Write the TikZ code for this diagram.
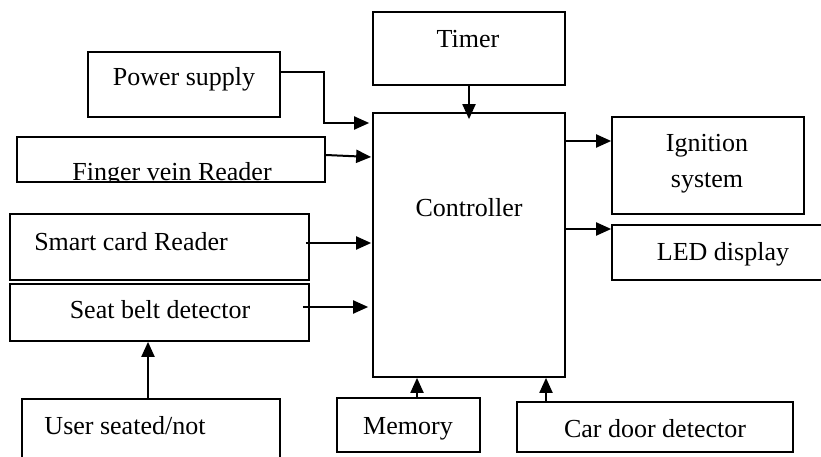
\documentclass[tikz,border=0pt]{standalone}
\usepackage{fontspec}
\setmainfont{Liberation Serif}
\usetikzlibrary{arrows.meta,fit,calc}
\begin{document}
\begin{tikzpicture}[x=1pt,y=-1pt,
  box/.style={draw, line width=1.7pt, inner sep=0pt, rectangle},
  txt/.style={font=\fontsize{26}{36}\selectfont, inner sep=0pt, anchor=base},
  arr/.style={line width=2pt, -{Triangle[length=15pt,width=13pt]}}]
\useasboundingbox (0,0) rectangle (821,457);
\clip (0,0) rectangle (821,457);
% boxes
\node[box, fit={(373,12)(565,85)}] (timer) {};
\node[box, fit={(88,52)(280,117)}] (power) {};
\node[box, fit={(17,137)(325,182)}] (finger) {};
\node[box, fit={(373,113)(565,377)}] (ctrl) {};
\node[box, fit={(612,117)(804,214)}] (ign) {};
\node[box, fit={(612,225)(845,280)}] (led) {};
\node[box, fit={(10,214)(309,280)}] (smart) {};
\node[box, fit={(10,284)(309,341)}] (seat) {};
\node[box, fit={(22,399)(280,485)}] (user) {};
\node[box, fit={(337,398)(480,452)}] (mem) {};
\node[box, fit={(517,402)(793,452)}] (door) {};
% texts
\node[txt] (ttimer) at (468,48) {Timer};
\node[txt] (tpower) at (184,86) {Power supply};
\begin{scope}
\clip (17,137) rectangle (325,181);
\node[txt] (tfinger) at (172,180.5) {Finger vein Reader};
\end{scope}
\node[txt] (tctrl) at (469,216) {Controller};
\node[txt] (tign1) at (707,152) {Ignition};
\node[txt] (tign2) at (707,188) {system};
\node[txt] (tled) at (723,260) {LED display};
\node[txt] (tsmart) at (131,250) {Smart card Reader};
\node[txt] (tseat) at (160,318) {Seat belt detector};
\node[txt] (tuser) at (125,434) {User seated/not};
\node[txt] (tmem) at (408,434) {Memory};
\node[txt] (tdoor) at (655,437) {Car door detector};
% connectors
\draw[arr] (power.east |- 0,72) -| (324,123) -- ($(ctrl.west |- 0,123)+(-3,0)$);
\draw[arr] (finger.east |- 0,155) -- ($(ctrl.west |- 0,157)+(-1,0)$);
\draw[arr] ($(smart.east |- 0,243)+(-4,0)$) -- ($(ctrl.west |- 0,243)+(-1,0)$);
\draw[arr] ($(seat.east |- 0,307)+(-7,0)$) -- ($(ctrl.west |- 0,307)+(-4,0)$);
\draw[arr] (timer.south) -- ([yshift=-7pt]ctrl.north);
\draw[arr] (ctrl.east |- 0,141) -- (ign.west |- 0,141);
\draw[arr] (ctrl.east |- 0,229) -- (led.west |- 0,229);
\draw[arr] (user.north -| 148,0) -- (seat.south -| 148,0);
\draw[arr] (mem.north -| 417,0) -- (ctrl.south -| 417,0);
\draw[arr] (door.north -| 546,0) -- (ctrl.south -| 546,0);
\end{tikzpicture}
\end{document}
